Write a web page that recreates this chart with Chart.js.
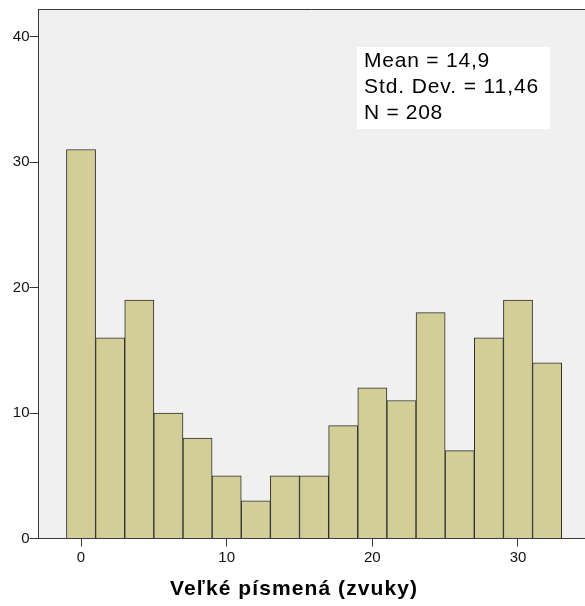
<!DOCTYPE html>
<html>
<head>
<meta charset="utf-8">
<script src="https://cdn.jsdelivr.net/npm/chart.js@4/dist/chart.umd.min.js"></script>
<style>
html,body{margin:0;padding:0;background:#fff;overflow:hidden;}
#wrap{width:585px;height:606px;position:relative;}
</style>
</head>
<body>
<div id="wrap"><canvas id="c" width="585" height="606"></canvas></div>
<script>
// Histogram data (bin width 2, bins from -1 to 33)
const binCenters = [0, 2, 4, 6, 8, 10, 12, 14, 16, 18, 20, 22, 24, 26, 28, 30, 32];
const counts = [31, 16, 19, 10, 8, 5, 3, 5, 5, 9, 12, 11, 18, 7, 16, 19, 14];
const xTicks = [0, 10, 20, 30];
const yTicks = [0, 10, 20, 30, 40];
const axisTitle = 'Veľké písmená (zvuky)';
const statsLines = ['Mean = 14,9', 'Std. Dev. = 11,46', 'N = 208'];

const FONT = "'Liberation Sans', Arial, sans-serif";
const LINE = '#3a3a3a';

function fitText(ctx, text, x, y, targetWidth) {
  ctx.letterSpacing = '0px';
  const w = ctx.measureText(text).width;
  const n = Math.max(1, [...text].length);
  const ls = (targetWidth - w) / n;
  ctx.letterSpacing = ls.toFixed(2) + 'px';
  ctx.fillText(text, x, y);
  ctx.letterSpacing = '0px';
}

const bgPlugin = {
  id: 'bg',
  beforeDraw(chart) {
    const {ctx, chartArea: a} = chart;
    ctx.save();
    ctx.fillStyle = '#f0f0f0';
    ctx.fillRect(a.left, a.top, chart.width - a.left, a.bottom - a.top);
    ctx.restore();
  },
  afterDraw(chart) {
    const {ctx, chartArea: a} = chart;
    ctx.save();
    // top border
    ctx.strokeStyle = LINE;
    ctx.lineWidth = 1;
    ctx.beginPath();
    ctx.moveTo(a.left, Math.round(a.top) + 0.5);
    ctx.lineTo(chart.width, Math.round(a.top) + 0.5);
    ctx.stroke();
    // stats box
    ctx.fillStyle = '#ffffff';
    ctx.fillRect(357, 47, 193, 82);
    ctx.fillStyle = '#000';
    ctx.font = '21px ' + FONT;
    ctx.textBaseline = 'alphabetic';
    ctx.textAlign = 'left';
    const widths = [126, 175, 79];
    statsLines.forEach((t, i) => fitText(ctx, t, 364, 67 + i * 26, widths[i]));
    // axis title
    ctx.font = 'bold 21px ' + FONT;
    ctx.fillStyle = '#000';
    fitText(ctx, axisTitle, 170, 595, 248);
    ctx.restore();
  }
};

new Chart(document.getElementById('c'), {
  type: 'bar',
  data: {
    datasets: [{
      data: binCenters.map((x, i) => ({x: x, y: counts[i]})),
      backgroundColor: '#d3ce97',
      borderColor: '#2e2e2e',
      borderWidth: 1,
      barPercentage: 1,
      categoryPercentage: 1
    }]
  },
  options: {
    responsive: false,
    animation: false,
    layout: {padding: {top: 7, right: 0, left: 0, bottom: 0}},
    plugins: {legend: {display: false}, tooltip: {enabled: false}},
    scales: {
      x: {
        type: 'linear',
        offset: false,
        min: -2.92,
        max: 34.6,
        afterBuildTicks(s) { s.ticks = xTicks.map(v => ({value: v})); },
        afterFit(s) { s.height = 67.5; },
        grid: {display: true, offset: false, drawOnChartArea: false, drawTicks: true, tickLength: 8, color: LINE},
        border: {display: true, color: LINE},
        ticks: {padding: 2, color: '#111', font: {family: FONT, size: 15}, maxRotation: 0}
      },
      y: {
        min: 0,
        max: 42.2,
        afterBuildTicks(s) { s.ticks = yTicks.map(v => ({value: v})); },
        afterFit(s) { s.width = 38.5; },
        grid: {display: true, drawOnChartArea: false, drawTicks: true, tickLength: 9, color: LINE},
        border: {display: true, color: LINE},
        ticks: {padding: 0, color: '#111', font: {family: FONT, size: 15}}
      }
    }
  },
  plugins: [bgPlugin]
});
</script>
</body>
</html>
